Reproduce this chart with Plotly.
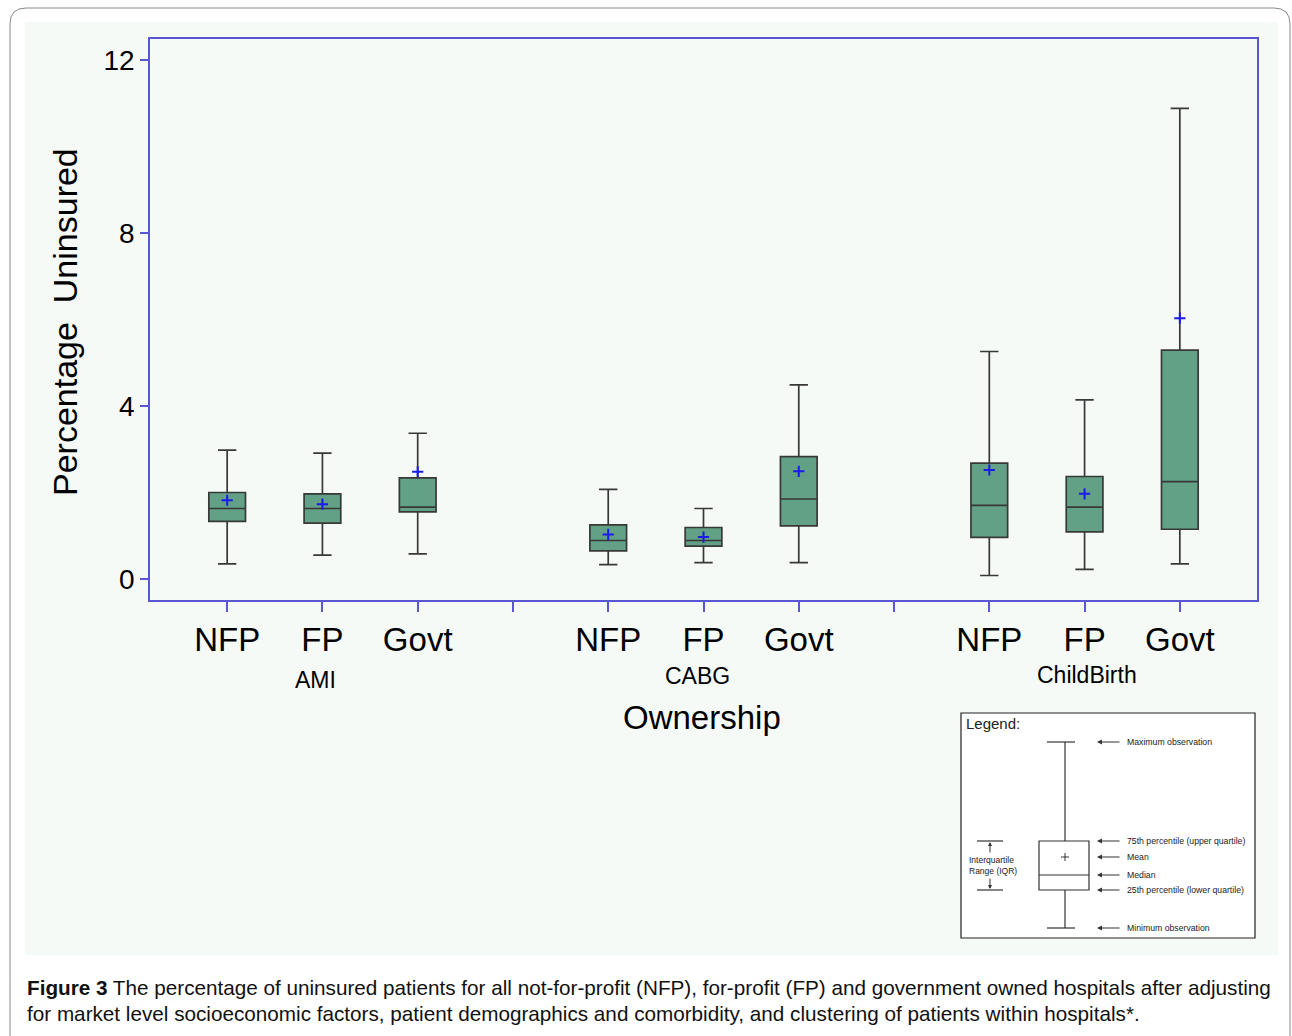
import plotly.graph_objects as go

# ---------------- data ----------------
groups = ["AMI", "CABG", "ChildBirth"]
x_pos = [1, 2, 3, 5, 6, 7, 9, 10, 11]
tick_vals = [1, 2, 3, 4, 5, 6, 7, 8, 9, 10, 11]
tick_text = ["NFP", "FP", "Govt", "", "NFP", "FP", "Govt", "", "NFP", "FP", "Govt"]
minimum = [0.35, 0.55, 0.58, 0.33, 0.38, 0.38, 0.08, 0.22, 0.35]
q1 = [1.33, 1.29, 1.55, 0.65, 0.76, 1.23, 0.96, 1.09, 1.15]
median = [1.63, 1.63, 1.66, 0.89, 0.89, 1.85, 1.70, 1.66, 2.25]
q3 = [2.00, 1.97, 2.34, 1.25, 1.19, 2.83, 2.68, 2.37, 5.29]
maximum = [2.98, 2.91, 3.37, 2.07, 1.63, 4.49, 5.26, 4.14, 10.88]
mean = [1.82, 1.73, 2.48, 1.03, 0.97, 2.49, 2.52, 1.97, 6.03]
y_ticks = [0, 4, 8, 12]
group_label_x = [1.93, 5.94, 10.03]

# ---------------- style ----------------
W, H = 1292, 1036
L, R, T, B = 150, 1257, 39, 600
FRAME = "#5a55d2"
BG = "#f5faf7"
FILL = "#62a186"
EDGE = "#383838"
FONT = "Liberation Sans, Arial, sans-serif"


def X(px):
    return (px - L) / (R - L)


def Y(py):
    return (B - py) / (B - T)


def txt(text, px, py, size, xanchor="center", **kw):
    d = dict(text=text, xref="paper", yref="paper", x=X(px), y=Y(py),
             xanchor=xanchor, yanchor="middle", showarrow=False,
             font=dict(family=FONT, size=size, color=kw.pop("color", "black")))
    d.update(kw)
    return d


fig = go.Figure()

fig.add_trace(go.Box(
    x=x_pos, q1=q1, median=median, q3=q3,
    lowerfence=minimum, upperfence=maximum,
    width=0.385, whiskerwidth=0.5,
    fillcolor=FILL, line=dict(color=EDGE, width=1.7),
    boxpoints=False, hoverinfo="skip", showlegend=False,
))

fig.add_trace(go.Scatter(
    x=x_pos, y=mean, mode="markers",
    marker=dict(symbol="cross-thin", size=8, line=dict(width=2, color="#1a1aee")),
    hoverinfo="skip", showlegend=False,
))

shapes = []
annotations = []

# outer rounded frame and inner background
shapes.append(dict(type="path", xref="paper", yref="paper",
                   path=f"M {X(10)},{Y(1040)} L {X(10)},{Y(24)} Q {X(10)},{Y(8)} {X(26)},{Y(8)} "
                        f"L {X(1274)},{Y(8)} Q {X(1290)},{Y(8)} {X(1290)},{Y(24)} L {X(1290)},{Y(1040)}",
                   line=dict(color="#8a8a8a", width=1), layer="below"))
shapes.append(dict(type="rect", xref="paper", yref="paper",
                   x0=X(25), x1=X(1278), y0=Y(955), y1=Y(22),
                   fillcolor=BG, line=dict(width=0), layer="below"))

# y title, group labels, x title
annotations.append(txt("Percentage  Uninsured", 65, 322, 34, textangle=-90))
label_y = [680, 676, 675]
for g, gx, gy in zip(groups, group_label_x, label_y):
    annotations.append(dict(text=g, xref="x", yref="paper", x=gx, y=Y(gy),
                            xanchor="center", yanchor="middle", showarrow=False,
                            font=dict(family=FONT, size=23, color="black")))
annotations.append(txt("Ownership", 702, 717, 33))

# ---------------- legend schematic ----------------
shapes.append(dict(type="rect", xref="paper", yref="paper", x0=X(961), x1=X(1255),
                   y0=Y(938), y1=Y(713), fillcolor="white", line=dict(color="#222", width=1.2)))
annotations.append(txt("Legend:", 964, 723, 15, xanchor="left", color="#222"))
lc = "#333"
cx = 1065
lg_max, lg_q3, lg_mean, lg_med, lg_q1, lg_min = 742, 841, 857, 875, 890, 928
shapes += [
    dict(type="line", xref="paper", yref="paper", x0=X(cx), x1=X(cx), y0=Y(lg_max), y1=Y(lg_q3), line=dict(color=lc, width=1.2)),
    dict(type="line", xref="paper", yref="paper", x0=X(cx), x1=X(cx), y0=Y(lg_q1), y1=Y(lg_min), line=dict(color=lc, width=1.2)),
    dict(type="line", xref="paper", yref="paper", x0=X(1047), x1=X(1075), y0=Y(lg_max), y1=Y(lg_max), line=dict(color=lc, width=1.2)),
    dict(type="line", xref="paper", yref="paper", x0=X(1047), x1=X(1075), y0=Y(lg_min), y1=Y(lg_min), line=dict(color=lc, width=1.2)),
    dict(type="rect", xref="paper", yref="paper", x0=X(1039), x1=X(1089), y0=Y(lg_q1), y1=Y(lg_q3), line=dict(color=lc, width=1.2), fillcolor="white"),
    dict(type="line", xref="paper", yref="paper", x0=X(1039), x1=X(1089), y0=Y(lg_med), y1=Y(lg_med), line=dict(color=lc, width=1.2)),
    dict(type="line", xref="paper", yref="paper", x0=X(cx - 4), x1=X(cx + 4), y0=Y(lg_mean), y1=Y(lg_mean), line=dict(color=lc, width=1)),
    dict(type="line", xref="paper", yref="paper", x0=X(cx), x1=X(cx), y0=Y(lg_mean - 4), y1=Y(lg_mean + 4), line=dict(color=lc, width=1)),
    dict(type="line", xref="paper", yref="paper", x0=X(977), x1=X(1003), y0=Y(lg_q3), y1=Y(lg_q3), line=dict(color=lc, width=1.2)),
    dict(type="line", xref="paper", yref="paper", x0=X(977), x1=X(1003), y0=Y(lg_q1), y1=Y(lg_q1), line=dict(color=lc, width=1.2)),
]
for lab, yy in [("Maximum observation", lg_max), ("75th percentile (upper quartile)", lg_q3),
                ("Mean", lg_mean), ("Median", lg_med), ("25th percentile (lower quartile)", lg_q1),
                ("Minimum observation", lg_min)]:
    annotations.append(dict(text="", xref="paper", yref="paper", x=X(1097), y=Y(yy),
                            ax=24, ay=0, showarrow=True, arrowhead=2, arrowsize=0.9,
                            arrowwidth=1.1, arrowcolor=lc))
    annotations.append(txt(lab, 1125, yy, 8.7, xanchor="left", color="#222"))
annotations.append(dict(text="", xref="paper", yref="paper", x=X(990), y=Y(lg_q3 + 1),
                        ax=0, ay=12, showarrow=True, arrowhead=2, arrowsize=0.8,
                        arrowwidth=1, arrowcolor=lc))
annotations.append(dict(text="", xref="paper", yref="paper", x=X(990), y=Y(lg_q1 - 1),
                        ax=0, ay=-12, showarrow=True, arrowhead=2, arrowsize=0.8,
                        arrowwidth=1, arrowcolor=lc))
annotations.append(txt("Interquartile<br>Range (IQR)", 967, 865, 8.5, xanchor="left",
                       align="left", color="#222"))

# ---------------- caption ----------------
annotations.append(txt(
    "<b>Figure 3</b> The percentage of uninsured patients for all not-for-profit (NFP), for-profit (FP) and government owned hospitals after adjusting",
    25, 987, 20.7, xanchor="left", color="#111"))
annotations.append(txt(
    "for market level socioeconomic factors, patient demographics and comorbidity, and clustering of patients within hospitals*.",
    25, 1014, 20.7, xanchor="left", color="#111"))

fig.update_layout(
    width=W, height=H,
    margin=dict(l=L, r=W - R, t=T, b=H - B),
    paper_bgcolor="white", plot_bgcolor=BG,
    shapes=shapes, annotations=annotations,
    showlegend=False,
    xaxis=dict(range=[0.19, 11.81], tickmode="array", tickvals=tick_vals, ticktext=tick_text,
               ticks="outside", ticklen=10, tickwidth=1.5, tickcolor=FRAME,
               showline=True, mirror=True, linecolor=FRAME, linewidth=1.5,
               showgrid=False, zeroline=False, ticklabelstandoff=0,
               tickfont=dict(family=FONT, size=33, color="black")),
    yaxis=dict(range=[-0.486, 12.486], tickmode="array", tickvals=y_ticks,
               ticks="outside", ticklen=8, tickwidth=1.5, tickcolor=FRAME,
               showline=True, mirror=True, linecolor=FRAME, linewidth=1.5,
               showgrid=False, zeroline=False,
               tickfont=dict(family=FONT, size=28, color="black")),
)

fig.write_html("out.html", config={"displayModeBar": False})

# remove the default page margin so the figure sits at the window's top-left corner
with open("out.html", "r", encoding="utf-8") as f:
    html = f.read()
html = html.replace("<body>", '<body style="margin:0;overflow:hidden">', 1)
with open("out.html", "w", encoding="utf-8") as f:
    f.write(html)
